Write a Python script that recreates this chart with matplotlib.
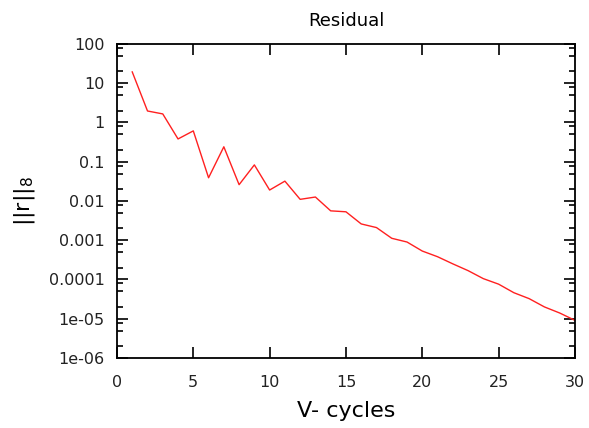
import matplotlib
matplotlib.use("Agg")
import matplotlib.pyplot as plt
from matplotlib.ticker import LogLocator, NullFormatter

cycles = list(range(1, 31))
residual = [19.4, 1.96, 1.65, 0.38, 0.61, 0.039, 0.24, 0.026, 0.083, 0.019,
            0.032, 0.011, 0.0126, 0.0056, 0.0053, 0.0026, 0.0021, 0.00112, 0.0009, 0.00053,
            0.00038, 0.00025, 0.000168, 0.000105, 7.6e-5, 4.6e-5, 3.25e-5, 2.0e-5, 1.4e-5, 9.1e-6]
ytick_vals = [1e-6, 1e-5, 1e-4, 1e-3, 1e-2, 1e-1, 1, 10, 100]
ytick_labels = ["1e-06", "1e-05", "0.0001", "0.001", "0.01", "0.1", "1", "10", "100"]
xtick_vals = [0, 5, 10, 15, 20, 25, 30]

fig = plt.figure(figsize=(5.89, 4.28), dpi=100)
ax = fig.add_axes([0.1986, 0.1636, 0.7775, 0.7337])
ax.plot(cycles, residual, color="#ff2020", linewidth=1.0)
ax.set_yscale("log")
ax.set_xlim(0, 30)
ax.set_ylim(1e-6, 100)
ax.set_xticks(xtick_vals)
ax.set_yticks(ytick_vals)
ax.set_yticklabels(ytick_labels)
ax.yaxis.set_minor_locator(LogLocator(base=10, subs=(2.0, 5.0, 8.0)))
ax.yaxis.set_minor_formatter(NullFormatter())
ax.tick_params(which="both", direction="in", top=True, right=True, colors="black",
               labelsize=11.5, width=1.2)
ax.tick_params(which="major", length=8)
ax.tick_params(axis="x", which="major", pad=12)
ax.tick_params(axis="y", which="major", pad=9)
ax.tick_params(which="minor", length=4)
ax.tick_params(axis="both", labelcolor="#222222")
for s in ax.spines.values():
    s.set_linewidth(1.3)
ax.set_title("Residual", fontsize=13, pad=13)
ax.set_xlabel("V- cycles", fontsize=16, labelpad=8)
ax.set_ylabel("||r||$_{\\mathregular{8}}$", fontsize=16, labelpad=8)
fig.savefig("out.png", dpi=100)
